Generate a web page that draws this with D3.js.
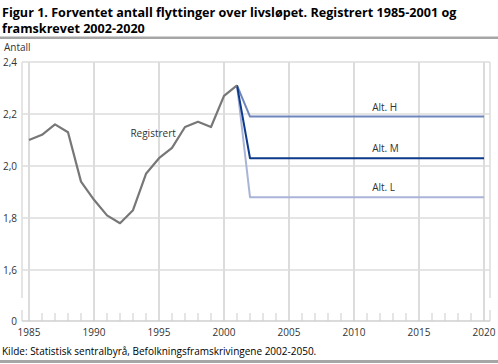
<!DOCTYPE html>
<html><head><meta charset="utf-8">
<script src="https://cdn.jsdelivr.net/npm/d3@7"></script>
<style>
body{margin:0;background:#fff;}
svg{display:block;font-family:"Open Sans",sans-serif;}
</style></head><body>
<svg id="c" width="498" height="364"></svg>
<script>
const titleLines = ["Figur 1. Forventet antall flyttinger over livsløpet. Registrert 1985-2001 og", "framskrevet 2002-2020"];
const yAxisTitle = "Antall";
const source = "Kilde: Statistisk sentralbyrå, Befolkningsframskrivingene 2002-2050.";
const regYears = [1985,1986,1987,1988,1989,1990,1991,1992,1993,1994,1995,1996,1997,1998,1999,2000,2001];
const regValues = [2.10,2.12,2.16,2.13,1.94,1.87,1.81,1.78,1.83,1.97,2.03,2.07,2.15,2.17,2.15,2.27,2.31];
const projYears = [2001,2002,2020];
const altH = [2.31,2.19,2.19];
const altM = [2.31,2.03,2.03];
const altL = [2.31,1.88,1.88];
const yTicks = [2.4,2.2,2.0,1.8,1.6];
const yTickLabels = ["2,4","2,2","2,0","1,8","1,6"];
const xTicks = [1985,1990,1995,2000,2005,2010,2015,2020];
const zeroLabel = "0";

const svg = d3.select("#c");
const x = d3.scaleLinear().domain([1985,2020]).range([29,484]);
const y = d3.scaleLinear().domain([1.6,2.4]).range([270,62]);
const pLeft = 22, pRight = 490, pTop = 62, pBase = 321;

// title
svg.append("text").attr("x",2).attr("y",17).attr("font-size",12.6).attr("font-weight","bold").attr("fill","#000")
  .selectAll("tspan").data(titleLines).join("tspan").attr("x",2).attr("dy",(d,i)=>i?15.5:0).text(d=>d);
svg.append("rect").attr("x",0).attr("y",36.5).attr("width",498).attr("height",2.5).attr("fill","#a6a6a6");
svg.append("rect").attr("x",0).attr("y",360).attr("width",498).attr("height",3).attr("fill","#a6a6a6");

svg.append("text").attr("x",4).attr("y",51).attr("font-size",10).attr("fill","#333").text(yAxisTitle);

const grid = "#dcdcdc";
svg.append("g").selectAll("line").data(yTicks).join("line")
  .attr("x1",pLeft).attr("x2",pRight).attr("y1",d=>y(d)).attr("y2",d=>y(d))
  .attr("stroke",grid).attr("stroke-width",1.5);
svg.append("g").selectAll("line").data(xTicks).join("line")
  .attr("x1",d=>x(d)).attr("x2",d=>x(d)).attr("y1",pTop).attr("y2",pBase)
  .attr("stroke",grid).attr("stroke-width",2);
svg.append("g").selectAll("line").data(d3.range(1985,2021).filter(v=>v%5!==0)).join("line")
  .attr("x1",d=>x(d)).attr("x2",d=>x(d)).attr("y1",pBase-8).attr("y2",pBase)
  .attr("stroke",grid).attr("stroke-width",1.5);
[pLeft,pRight].forEach(xx=>{
  svg.append("line").attr("x1",xx).attr("x2",xx).attr("y1",pTop).attr("y2",298).attr("stroke",grid).attr("stroke-width",1.5);
  svg.append("line").attr("x1",xx).attr("x2",xx).attr("y1",310).attr("y2",pBase).attr("stroke",grid).attr("stroke-width",1.5);
});
svg.append("line").attr("x1",pLeft).attr("x2",pRight).attr("y1",pBase).attr("y2",pBase).attr("stroke","#cfcfcf").attr("stroke-width",1.5);

svg.append("g").selectAll("text").data(yTicks).join("text")
  .attr("x",17).attr("y",d=>y(d)+3.5).attr("text-anchor","end").attr("font-size",10).attr("fill","#333")
  .text((d,i)=>yTickLabels[i]);
svg.append("text").attr("x",17).attr("y",pBase+3.5).attr("text-anchor","end").attr("font-size",10).attr("fill","#333").text(zeroLabel);
svg.append("g").selectAll("text").data(xTicks).join("text")
  .attr("x",d=>x(d)).attr("y",pBase+15).attr("text-anchor","middle").attr("font-size",10).attr("fill","#333").text(d=>d);

const line = d3.line().x(d=>x(d[0])).y(d=>y(d[1]));
const draw = (xs,vs,col,w)=>svg.append("path").attr("d",line(xs.map((v,i)=>[v,vs[i]])))
  .attr("fill","none").attr("stroke",col).attr("stroke-width",w).attr("stroke-linejoin","round");
draw(projYears,altL,"#aab4d8",2);
draw(projYears,altH,"#6f86bd",2);
draw(projYears,altM,"#0d3a8a",2);
draw(regYears,regValues,"#777777",2.2);

const lab = (t,xx,yy)=>svg.append("text").attr("x",xx).attr("y",yy).attr("font-size",10).attr("fill","#333").text(t);
lab("Registrert",x(1992.8),y(2.11));
lab("Alt. H",x(2011.4),y(2.19)-6);
lab("Alt. M",x(2011.4),y(2.03)-6);
lab("Alt. L",x(2011.4),y(1.88)-6);

svg.append("text").attr("x",2).attr("y",355).attr("font-size",10).attr("fill","#000").text(source);
</script></body></html>
